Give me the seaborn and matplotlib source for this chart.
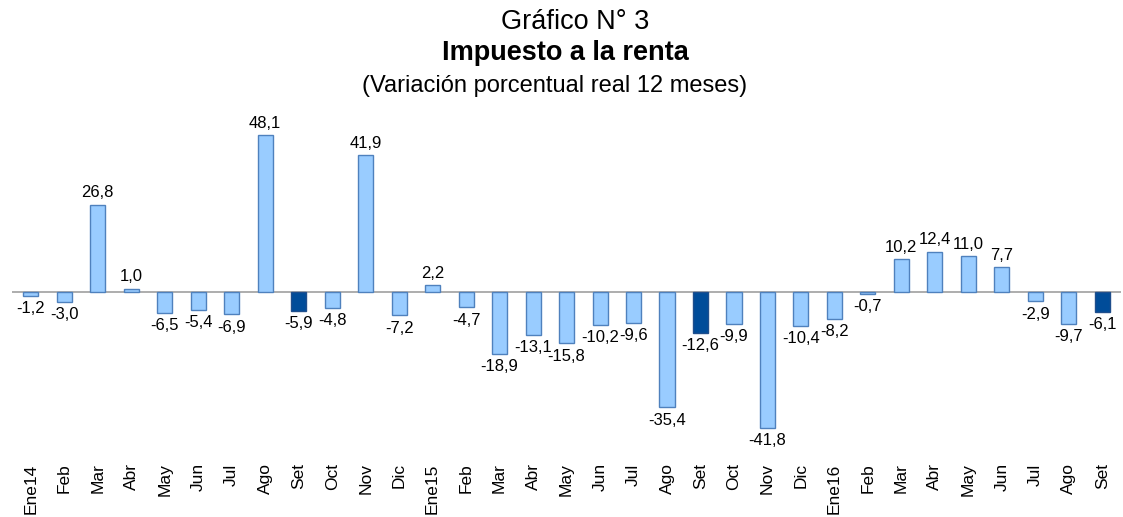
import matplotlib
matplotlib.use("Agg")
import matplotlib.pyplot as plt
import seaborn as sns
import pandas as pd

sns.set_theme(style="white")
plt.rcParams['font.family'] = ['Liberation Sans', 'DejaVu Sans']
plt.rcParams['text.color'] = 'black'
plt.rcParams['xtick.color'] = 'black'

months = ["Ene14", "Feb", "Mar", "Abr", "May", "Jun", "Jul", "Ago", "Set", "Oct", "Nov", "Dic",
          "Ene15", "Feb", "Mar", "Abr", "May", "Jun", "Jul", "Ago", "Set", "Oct", "Nov", "Dic",
          "Ene16", "Feb", "Mar", "Abr", "May", "Jun", "Jul", "Ago", "Set"]
values = [-1.2, -3.0, 26.8, 1.0, -6.5, -5.4, -6.9, 48.1, -5.9, -4.8, 41.9, -7.2,
          2.2, -4.7, -18.9, -13.1, -15.8, -10.2, -9.6, -35.4, -12.6, -9.9, -41.8, -10.4,
          -8.2, -0.7, 10.2, 12.4, 11.0, 7.7, -2.9, -9.7, -6.1]
highlight = ["Set"]

light = "#99CCFF"
dark = "#004C99"
edge = "#4F81BD"

df = pd.DataFrame({"pos": [str(i) for i in range(len(values))], "month": months, "value": values})
colors = [dark if m in highlight else light for m in months]

fig = plt.figure(figsize=(11.23, 5.17), dpi=100)
ax = fig.add_axes([0.011, 0.12, 0.987, 0.667])
sns.barplot(data=df, x="pos", y="value", hue="pos", palette=colors, legend=False,
            width=0.45, edgecolor=edge, linewidth=1.0, ax=ax, saturation=1)
for p, m in zip(ax.patches, months):
    if m in highlight:
        p.set_edgecolor("#1F4E8C")

ax.axhline(0, color="#A0A0A0", linewidth=1.2, zorder=0)
ax.set_xlim(-0.55, len(values) - 0.45)
ax.set_ylim(-50, 55.8)
ax.set_yticks([])
ax.set_xlabel("")
ax.set_ylabel("")
ax.set_xticks(range(len(months)))
ax.set_xticklabels(months, rotation=90, fontsize=12.5, va="top", color="black")
ax.tick_params(axis="x", length=0, pad=6)
for s in ax.spines.values():
    s.set_visible(False)

for i, v in enumerate(values):
    lab = f"{v:.1f}".replace(".", ",")
    if v >= 0:
        ax.text(i, v + 1.3, lab, ha="center", va="bottom", fontsize=12, color="black")
    else:
        ax.text(i, v - 1.6, lab, ha="center", va="top", fontsize=12, color="black")

fig.text(0.512, 0.944, "Gráfico N° 3", ha="center", va="baseline", fontsize=19.5, color="black")
fig.text(0.5036, 0.884, "Impuesto a la renta", ha="center", va="baseline", fontsize=19.5,
         fontweight="bold", color="black")
fig.text(0.494, 0.822, "(Variación porcentual real 12 meses)", ha="center", va="baseline",
         fontsize=17, color="black")

fig.savefig("out.png", dpi=100)
